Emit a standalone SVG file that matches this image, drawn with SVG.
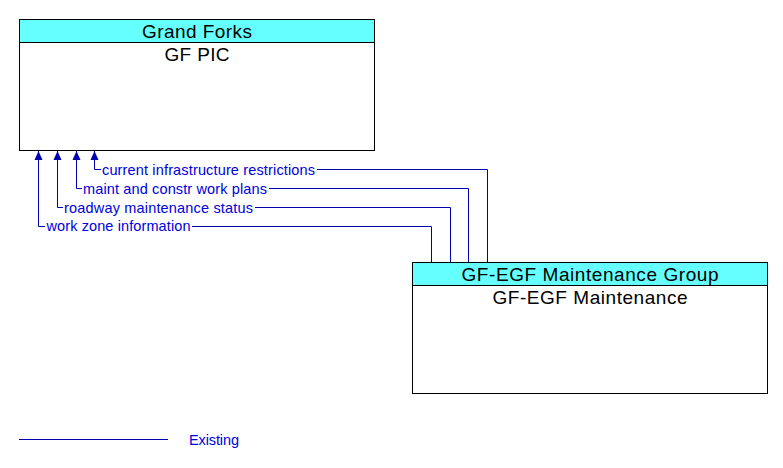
<svg xmlns="http://www.w3.org/2000/svg" width="783" height="468" viewBox="0 0 783 468">
<defs>
<marker id="arr" markerWidth="10" markerHeight="10" refX="0" refY="0" orient="auto" markerUnits="userSpaceOnUse" viewBox="-9 -5 10 10">
<path d="M0,0 L-9,-4 L-9,4 Z" fill="#0000b0"/>
</marker>
<style>
.box{fill:#fff;stroke:#000;stroke-width:1}
.hdr{fill:#66ffff;stroke:#000;stroke-width:1}
.t{font-family:"Liberation Sans",Arial,sans-serif;font-size:19px;fill:#000;text-anchor:middle}
.fl{fill:none;stroke:#0000b0;stroke-width:1}
.lb{font-family:"Liberation Sans",Arial,sans-serif;font-size:14.5px;fill:#0000e0}
</style>
</defs>
<rect width="783" height="468" fill="#fff"/>
<g id="gf-pic">
<rect class="box" x="19.5" y="19.5" width="355" height="131"/>
<rect class="hdr" x="19.5" y="19.5" width="355" height="23"/>
<text class="t" x="197" y="37.5" textLength="110">Grand Forks</text>
<text class="t" x="197" y="60.5" textLength="65">GF PIC</text>
</g>
<g id="gf-egf-maintenance">
<rect class="box" x="412.5" y="262.5" width="355" height="131"/>
<rect class="hdr" x="412.5" y="262.5" width="355" height="23"/>
<text class="t" x="590" y="280.5" textLength="257">GF-EGF Maintenance Group</text>
<text class="t" x="590" y="303.5" textLength="195">GF-EGF Maintenance</text>
</g>
<g id="connectors">
<path class="fl" d="M487.5,262 V169.5 H317 M101,169.5 H94.5 V151" marker-end="url(#arr)"/>
<path class="fl" d="M468.5,262 V188.5 H269 M82,188.5 H76.5 V151" marker-end="url(#arr)"/>
<path class="fl" d="M450.5,262 V207.5 H255 M63,207.5 H57.5 V151" marker-end="url(#arr)"/>
<path class="fl" d="M431.5,262 V226.5 H192 M45,226.5 H38.5 V151" marker-end="url(#arr)"/>
<text class="lb" x="102" y="174.5" textLength="213">current infrastructure restrictions</text>
<text class="lb" x="83" y="193.5" textLength="184">maint and constr work plans</text>
<text class="lb" x="64" y="212.5" textLength="189">roadway maintenance status</text>
<text class="lb" x="46.5" y="231" textLength="144">work zone information</text>
</g>
<g id="legend">
<line class="fl" x1="19" y1="439.5" x2="168" y2="439.5"/>
<text class="lb" x="189" y="445" textLength="50">Existing</text>
</g>
</svg>
